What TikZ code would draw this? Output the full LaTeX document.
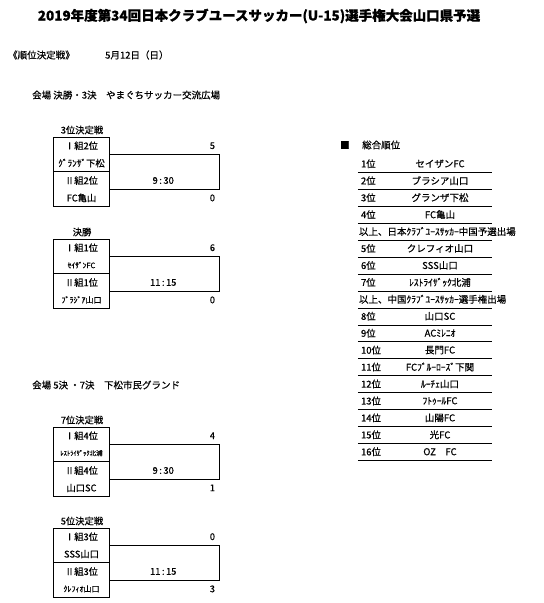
\documentclass[tikz,border=0pt]{standalone}
\usepackage{fontspec}
\setmainfont{Noto Sans CJK JP}[FakeBold=0.5]
\usetikzlibrary{positioning}

\begin{document}
\begin{tikzpicture}[x=1pt, y=-1pt,
  font=\fontsize{9.3}{11}\selectfont,
  cell/.style={minimum width=55pt, minimum height=17pt, inner sep=0pt, anchor=north},
  rowcell/.style={minimum width=134pt, minimum height=16.94pt, inner sep=0pt, anchor=north},
  frame/.style={draw=black, line width=0.8pt},
  bracket/.style={draw=black, line width=0.8pt},
  rankline/.style={draw=black, line width=0.7pt},
  score/.style={anchor=east, inner sep=0pt},
  lbl/.style={anchor=west, inner sep=0pt},
  tbl/.style={font=\fontsize{9.5}{11}\selectfont},
]
\useasboundingbox (0,0) rectangle (544,603);

% ---- header ----
\node[font=\bfseries\fontsize{13.5}{16}\selectfont] (title) at (259,16)
  {2019年度第34回日本クラブユースサッカー(U-15)選手権大会山口県予選};
\node[lbl, tbl] (round) at (8,55) {《順位決定戦》};
\node[lbl, tbl] (date) at (105,55) {5月12日（日）};
\node[lbl, tbl] (venue1) at (32,95) {会場 決勝・3決　やまぐちサッカー交流広場};
\node[lbl, tbl] (venue2) at (32,385) {会場 5決 ・7決　下松市民グランド};

% ---- placement matches: box of four rows, bracket to the right ----
\foreach \id/\ty/\ttl/\ga/\ta/\gb/\tb/\sa/\sb/\tm in {
  third/137/3位決定戦/Ⅰ組2位/{ｸﾞﾗﾝｻﾞ下松}/Ⅱ組2位/FC亀山/5/0/{9\,:\,30},
  final/239/決勝/Ⅰ組1位/{\fontsize{7.5}{9}\selectfont ｾｲｻﾞﾝFC}/Ⅱ組1位/{\fontsize{8}{9}\selectfont ﾌﾞﾗｼﾞｱ山口}/6/0/{11\,:\,15},
  seventh/427/7位決定戦/Ⅰ組4位/{\fontsize{6.5}{8}\selectfont ﾚｽﾄﾗｲｻﾞｯｸ北浦}/Ⅱ組4位/山口SC/4/1/{9\,:\,30},
  fifth/528/5位決定戦/Ⅰ組3位/SSS山口/Ⅱ組3位/{\fontsize{8}{9}\selectfont ｸﾚﾌｨｵ山口}/0/3/{11\,:\,15}} {
  \node (\id-t) at (82,\ty-7) {\ttl};
  \node[cell] (\id-1) at (81.5,\ty) {\ga};
  \node[cell, below=0pt of \id-1] (\id-2) {\ta};
  \node[cell, below=0pt of \id-2] (\id-3) {\gb};
  \node[cell, below=0pt of \id-3] (\id-4) {\tb};
  \draw[frame] (\id-1.north west) rectangle (\id-4.south east);
  \draw[frame] (\id-2.south west) -- (\id-2.south east);
  \draw[bracket] (\id-1.south east) -- ++(110,0) |- (\id-3.south east);
  \node[score] (\id-a) at ([xshift=106pt]\id-1.east) {\sa};
  \node (\id-m) at ([xshift=54pt]\id-3.east) {\tm};
  \node[score] (\id-b) at ([xshift=106pt]\id-4.east) {\sb};
}

% ---- overall ranking ----
\node[lbl, tbl] (rank-sq) at (340,145) {■};
\node[lbl, tbl] (rank-title) at (362,145) {総合順位};
\foreach \i in {0,...,17} {
  \node[rowcell] (row-\i) at (425,155.1+16.94*\i) {};
  \draw[rankline] (row-\i.south west) -- (row-\i.south east);
}
\foreach \i/\rk/\team in {0/1位/セイザンFC, 1/2位/ブラシア山口, 2/3位/グランザ下松,
    3/4位/FC亀山, 5/5位/クレフィオ山口, 6/6位/SSS山口, 7/7位/ﾚｽﾄﾗｲｻﾞｯｸ北浦,
    9/8位/山口SC, 10/9位/ACﾐﾚﾆｵ, 11/10位/長門FC, 12/11位/FCﾌﾞﾙｰﾛｰｽﾞ下関,
    13/12位/ﾙｰﾁｪ山口, 14/13位/ﾌﾄｩｰﾙFC, 15/14位/山陽FC, 16/15位/光FC, 17/16位/OZ　FC} {
  \node[lbl, tbl] (rk-\i) at ([xshift=3pt]row-\i.west) {\rk};
  \node[tbl] (tm-\i) at ([xshift=15pt]row-\i.center) {\team};
}
\node[lbl, tbl] (note-1) at ([xshift=1pt]row-4.west) {以上、日本ｸﾗﾌﾞﾕｰｽｻｯｶｰ中国予選出場};
\node[lbl, tbl] (note-2) at ([xshift=1pt]row-8.west) {以上、中国ｸﾗﾌﾞﾕｰｽｻｯｶｰ選手権出場};
\end{tikzpicture}
\end{document}
